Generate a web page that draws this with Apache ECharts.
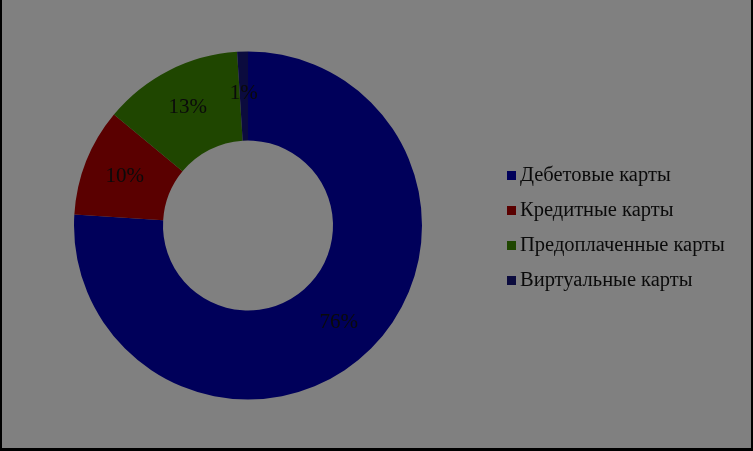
<!DOCTYPE html>
<html>
<head>
<meta charset="utf-8">
<script src="https://cdn.jsdelivr.net/npm/echarts@6/dist/echarts.min.js"></script>
<style>
html,body{margin:0;padding:0;background:#808080;}
#wrap{position:absolute;left:0;top:0;width:753px;height:451px;background:#808080;}
#chart{position:absolute;left:0;top:0;width:753px;height:451px;}
#frame{position:absolute;left:0;top:0;width:749px;height:448px;border-left:2px solid #000;border-right:2px solid #000;border-bottom:3px solid #000;pointer-events:none;}
</style>
</head>
<body>
<div id="wrap"><div id="chart"></div><div id="frame"></div></div>
<script>
var categories = ['Дебетовые карты', 'Кредитные карты', 'Предоплаченные карты', 'Виртуальные карты'];
var values = [76, 10, 13, 1];
var colors = ['#00005a', '#5a0000', '#1f4600', '#0b0b3e'];

var chart = echarts.init(document.getElementById('chart'), null, {renderer: 'canvas'});
var data = categories.map(function (c, i) {
  return {name: c, value: values[i], itemStyle: {color: colors[i]}};
});
chart.setOption({
  animation: false,
  backgroundColor: '#808080',
  legend: {
    orient: 'vertical',
    left: 507,
    top: 164,
    padding: 0,
    itemWidth: 9,
    itemHeight: 9,
    itemGap: 12,
    icon: 'rect',
    selectedMode: false,
    textStyle: {fontFamily: 'Liberation Serif', fontSize: 20.5, color: '#0a0a0a', lineHeight: 23, padding: [0, 0, 0, -1]},
    data: categories
  },
  series: [{
    type: 'pie',
    radius: [85, 174],
    center: [248, 225.5],
    startAngle: 90,
    clockwise: true,
    avoidLabelOverlap: false,
    silent: true,
    label: {
      show: true,
      position: 'inside',
      fontFamily: 'Liberation Serif',
      fontSize: 21,
      color: '#0a0a0a',
      formatter: function (p) { return p.value + '%'; }
    },
    labelLine: {show: false},
    itemStyle: {borderWidth: 0},
    data: data
  }]
});
</script>
</body>
</html>
